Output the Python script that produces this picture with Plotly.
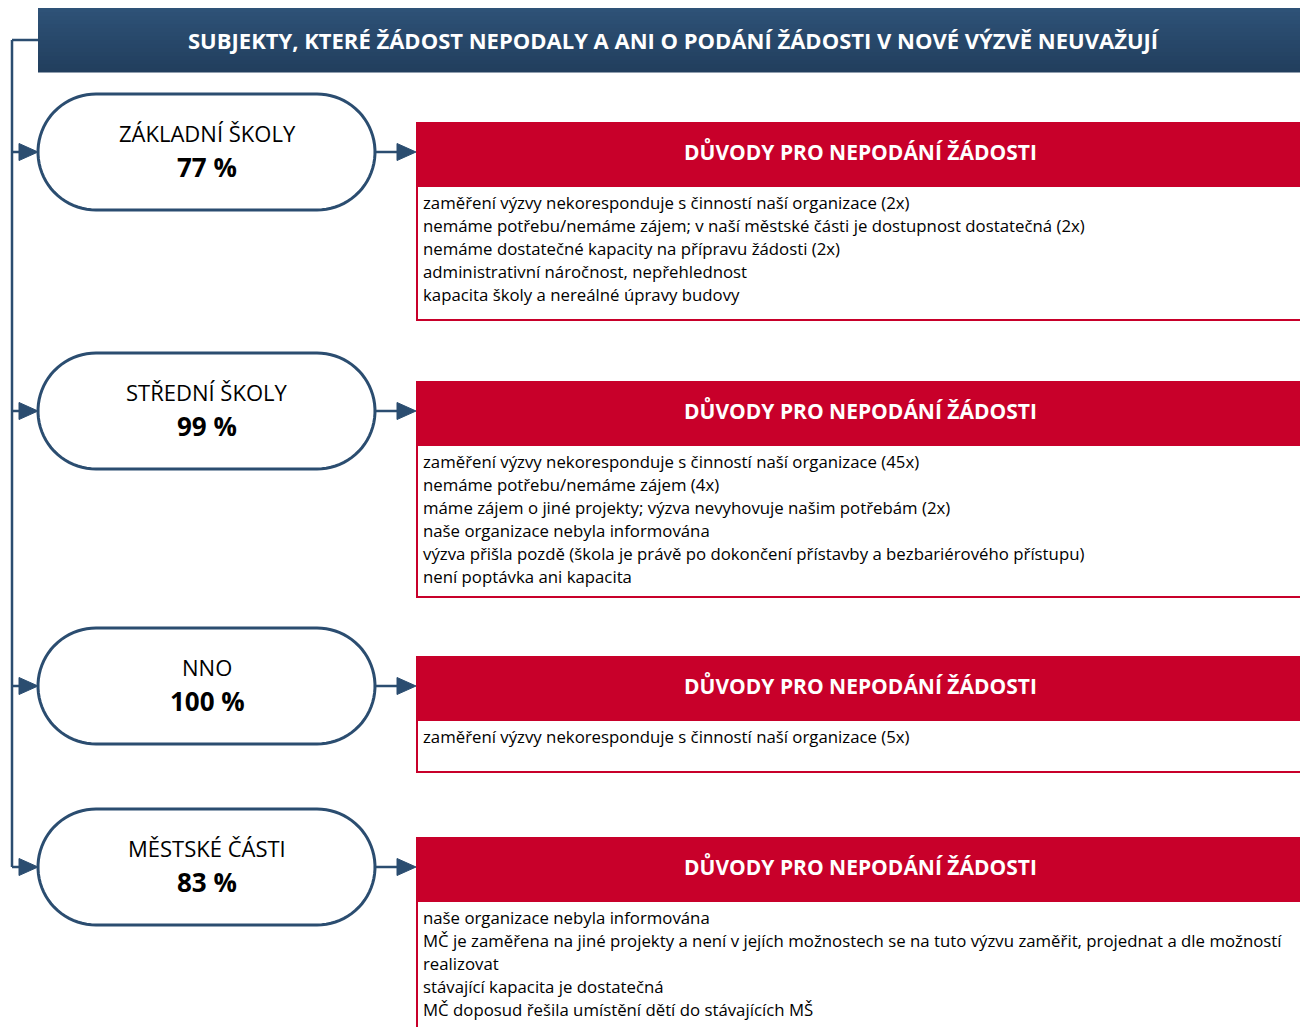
import numpy as np
import plotly.graph_objects as go

title = "SUBJEKTY, KTERÉ ŽÁDOST NEPODALY A ANI O PODÁNÍ ŽÁDOSTI V NOVÉ VÝZVĚ NEUVAŽUJÍ"
box_title = "DŮVODY PRO NEPODÁNÍ ŽÁDOSTI"

groups = ["ZÁKLADNÍ ŠKOLY", "STŘEDNÍ ŠKOLY", "NNO", "MĚSTSKÉ ČÁSTI"]
shares = [77, 99, 100, 83]

reasons_zs = [
    "zaměření výzvy nekoresponduje s činností naší organizace (2x)",
    "nemáme potřebu/nemáme zájem; v naší městské části je dostupnost dostatečná (2x)",
    "nemáme dostatečné kapacity na přípravu žádosti (2x)",
    "administrativní náročnost, nepřehlednost",
    "kapacita školy a nereálné úpravy budovy",
]
reasons_ss = [
    "zaměření výzvy nekoresponduje s činností naší organizace (45x)",
    "nemáme potřebu/nemáme zájem (4x)",
    "máme zájem o jiné projekty; výzva nevyhovuje našim potřebám (2x)",
    "naše organizace nebyla informována",
    "výzva přišla pozdě (škola je právě po dokončení přístavby a bezbariérového přístupu)",
    "není poptávka ani kapacita",
]
reasons_nno = [
    "zaměření výzvy nekoresponduje s činností naší organizace (5x)",
]
reasons_mc = [
    "naše organizace nebyla informována",
    "MČ je zaměřena na jiné projekty a není v jejích možnostech se na tuto výzvu zaměřit, projednat a dle možností",
    "realizovat",
    "stávající kapacita je dostatečná",
    "MČ doposud řešila umístění dětí do stávajících MŠ",
]
reasons = [reasons_zs, reasons_ss, reasons_nno, reasons_mc]

# layout in page pixels
W, H = 1300, 1027
centers = [152, 411, 686, 867]
list_bottom = [320, 597, 772, 1045]
BLUE = "#2b4d70"
RED = "#c8002a"
pill_x0, pill_x1, pill_h = 38, 375, 116
box_x0, box_x1 = 416, 1312

fig = go.Figure()
shapes = []
ann = []

# header with a soft vertical gradient
top_c = np.array([0x2e, 0x52, 0x77])
bot_c = np.array([0x22, 0x3f, 0x5e])
n = 16
for i in range(n):
    c = top_c + (bot_c - top_c) * i / (n - 1)
    y0 = 8 + 64 * i / n
    y1 = 8 + 64 * (i + 1) / n + 0.5
    shapes.append(dict(type="rect", x0=38, x1=1312, y0=y0, y1=y1,
                       fillcolor="rgb(%d,%d,%d)" % tuple(c), line_width=0, layer="below"))
ann.append(dict(x=674, y=40, text="<b>" + title + "</b>", showarrow=False,
                font=dict(family="Open Sans", size=22, color="white")))

# connector on the left
shapes.append(dict(type="line", x0=38, x1=12, y0=40, y1=40, line=dict(color=BLUE, width=2.5)))
shapes.append(dict(type="line", x0=12, x1=12, y0=40, y1=centers[-1], line=dict(color=BLUE, width=2.5)))


def arrow(xa, xb, y):
    shapes.append(dict(type="line", x0=xa, x1=xb - 16, y0=y, y1=y, line=dict(color=BLUE, width=2.5)))
    shapes.append(dict(type="path", path="M %f %f L %f %f L %f %f Z" % (xb - 19, y - 8.5, xb, y, xb - 19, y + 8.5),
                       fillcolor=BLUE, line=dict(color=BLUE, width=1)))


def stadium(x0, x1, yc, h):
    r = h / 2
    t = np.linspace(-np.pi / 2, np.pi / 2, 40)
    right = [(x1 - r + r * np.cos(a), yc + r * np.sin(a)) for a in t]
    left = [(x0 + r - r * np.cos(a), yc - r * np.sin(a)) for a in t]
    pts = right + left
    return "M " + " L ".join("%.2f %.2f" % p for p in pts) + " Z"


for k, (g, s, rs) in enumerate(zip(groups, shares, reasons)):
    yc = centers[k]
    shapes.append(dict(type="path", path=stadium(pill_x0, pill_x1, yc, pill_h),
                       fillcolor="white", line=dict(color=BLUE, width=3)))
    ann.append(dict(x=207, y=yc - 19, text=g, showarrow=False,
                    font=dict(family="Open Sans", size=22, color="black")))
    ann.append(dict(x=207, y=yc + 15, text="<b>%d %%</b>" % s, showarrow=False,
                    font=dict(family="Open Sans", size=26, color="black")))
    arrow(12, pill_x0, yc)
    arrow(pill_x1, box_x0, yc)

    # red heading and list box
    htop, hbot = yc - 30, yc + 34
    shapes.append(dict(type="rect", x0=box_x0 + 1, x1=box_x1, y0=hbot, y1=list_bottom[k],
                       fillcolor="white", line=dict(color=RED, width=2)))
    shapes.append(dict(type="rect", x0=box_x0, x1=box_x1, y0=htop, y1=hbot,
                       fillcolor=RED, line_width=0))
    ann.append(dict(x=860, y=yc, text="<b>" + box_title + "</b>", showarrow=False,
                    font=dict(family="Open Sans", size=21, color="white")))
    for j, line in enumerate(rs):
        ann.append(dict(x=421, y=hbot + 16 + 23 * j, text=line, showarrow=False,
                        xanchor="left", font=dict(family="Open Sans", size=16.8, color="black")))

fig.update_layout(
    width=W, height=H, margin=dict(l=0, r=0, t=0, b=0),
    paper_bgcolor="white", plot_bgcolor="white",
    xaxis=dict(range=[0, W], visible=False, fixedrange=True),
    yaxis=dict(range=[H, 0], visible=False, fixedrange=True),
    shapes=shapes, annotations=ann, showlegend=False,
)

# the figure takes the whole page, so drop the default body margin
fig.write_html("out.html", config={"displayModeBar": False},
               post_script="document.body.style.margin = '0px';")
